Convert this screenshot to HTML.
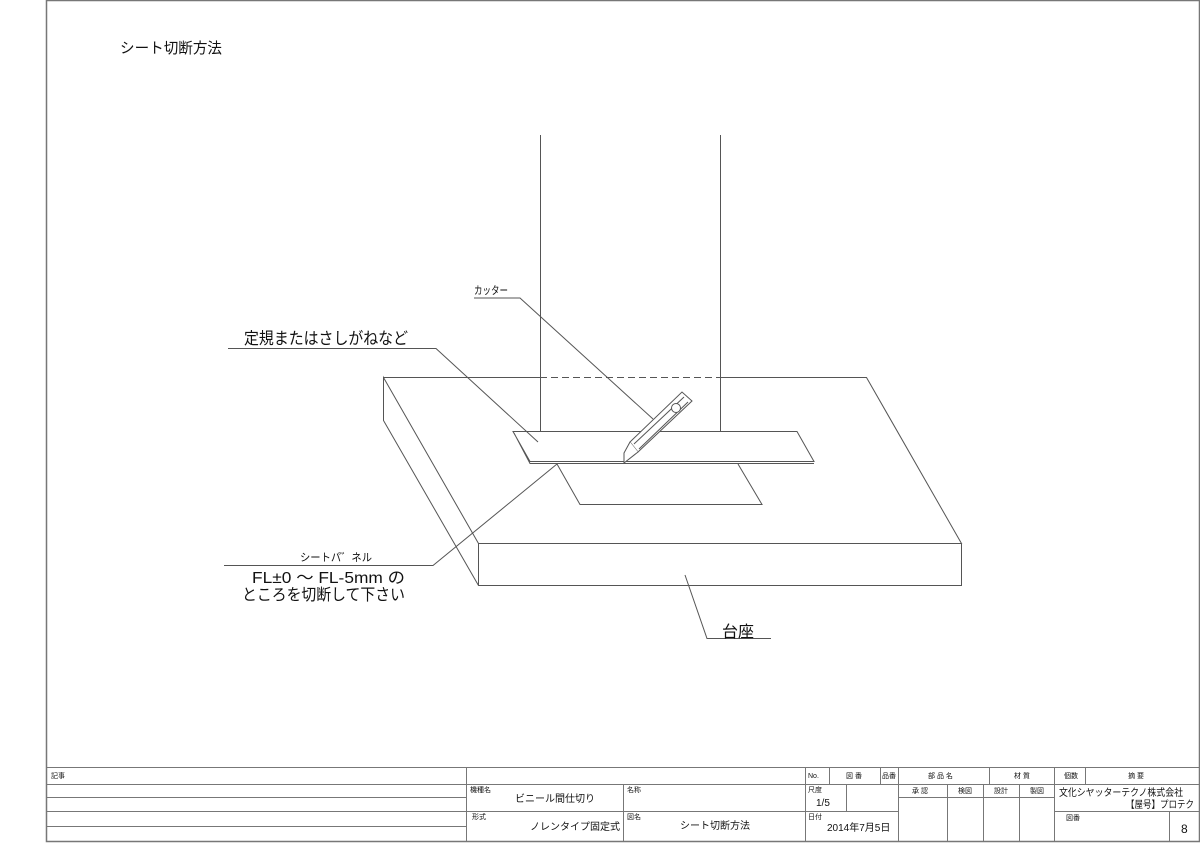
<!DOCTYPE html>
<html><head><meta charset="utf-8"><style>
html,body{margin:0;padding:0;background:#fff;}
svg{display:block;font-family:"Liberation Sans","Noto Sans CJK JP",sans-serif;}
</style></head><body>
<svg width="1200" height="854" viewBox="0 0 1200 854" xmlns="http://www.w3.org/2000/svg">
<g fill="none" stroke="#555" stroke-width="1">
<path d="M46.5 0.5H1199.5V841.5H46.5Z" stroke="#777" stroke-width="1.5"/>
<path d="M540.5 135V431M720.5 135V431"/>
<path d="M383.5 377.5H540M720 377.5H866.5L961.5 543.5H478.5L383.5 377.5V420.5L478.5 585.5H961.5V543.5M478.5 543.5V585.5"/>
<path d="M540 377.5H720" stroke-dasharray="7,4"/>
<path d="M557 464L580 504.5H762L738 464"/>
<path d="M513 431.5H797L814 461.5H530L513 431.5ZM514 433L530 463.5H814" fill="#fff"/>
<g fill="#fff">
<path d="M630 442L682 392L692 401L638 452Z"/>
<path d="M634 444L684 397M639 449L688 402"/>
<path d="M630 442L624 453V463L638 452"/>
<circle cx="676" cy="408" r="4.5"/>
</g>
<path d="M474 298H520L653 419"/>
<path d="M228 348.5H436L538 442"/>
<path d="M224 565.5H433L557 464"/>
<path d="M685 575L707 638.5H771"/>
<g stroke="#777">
<path d="M46.5 767.5H1199.5M46.5 784.5H1199.5M46.5 797.5H466M46.5 811.5H898M1055 811.5H1199.5M46.5 826.5H466M898 797.5H1055"/>
<path d="M466.5 767.5V841.5M623.5 784V841.5M805.5 767.5V841.5M829.5 767.5V784M880.5 767.5V784M898.5 767.5V841.5M989.5 767.5V784M1054.5 767.5V841.5M1085.5 767.5V784M846.5 784V811M947.5 784V841.5M983.5 784V841.5M1019.5 784V841.5M1169.5 811V841.5"/>
</g>
</g>
<g fill="#111">
<text x="120" y="53" font-size="15" textLength="102" lengthAdjust="spacingAndGlyphs">シート切断方法</text>
<text x="474" y="294" font-size="11" textLength="34" lengthAdjust="spacingAndGlyphs">カッター</text>
<text x="244" y="344" font-size="16.5" textLength="164" lengthAdjust="spacingAndGlyphs">定規またはさしがねなど</text>
<text x="300" y="561" font-size="11" textLength="72" lengthAdjust="spacingAndGlyphs">シートパ゛ネル</text>
<text x="252" y="583" font-size="16" textLength="153" lengthAdjust="spacingAndGlyphs">FL±0 ～ FL-5mm の</text>
<text x="242" y="600" font-size="16" textLength="163" lengthAdjust="spacingAndGlyphs">ところを切断して下さい</text>
<text x="722" y="637" font-size="16">台座</text>
<g font-size="7">
<text x="51" y="778">記事</text>
<text x="470" y="792">機種名</text>
<text x="472" y="819">形式</text>
<text x="627" y="792">名称</text>
<text x="627" y="819">図名</text>
<text x="808" y="778">No.</text>
<text x="846" y="778">図 番</text>
<text x="882" y="778">品番</text>
<text x="928" y="778">部 品 名</text>
<text x="1014" y="778">材 質</text>
<text x="1064" y="778">個数</text>
<text x="1128" y="778">摘 要</text>
<text x="808" y="792">尺度</text>
<text x="808" y="819">日付</text>
<text x="912" y="793">承 認</text>
<text x="958" y="793">検図</text>
<text x="994" y="793">設計</text>
<text x="1030" y="793">製図</text>
<text x="1066" y="820">図番</text>
</g>
<text x="515" y="802" font-size="10">ビニール間仕切り</text>
<text x="530" y="830" font-size="10">ノレンタイプ固定式</text>
<text x="680" y="829" font-size="10">シート切断方法</text>
<text x="816" y="806" font-size="10">1/5</text>
<text x="827" y="831" font-size="10">2014年7月5日</text>
<text x="1059" y="796" font-size="10" textLength="124" lengthAdjust="spacingAndGlyphs">文化シヤッターテクノ株式会社</text>
<text x="1126" y="808" font-size="10" textLength="68" lengthAdjust="spacingAndGlyphs">【屋号】プロテク</text>
<text x="1181" y="833" font-size="12">8</text>
</g>
</svg>
</body></html>
